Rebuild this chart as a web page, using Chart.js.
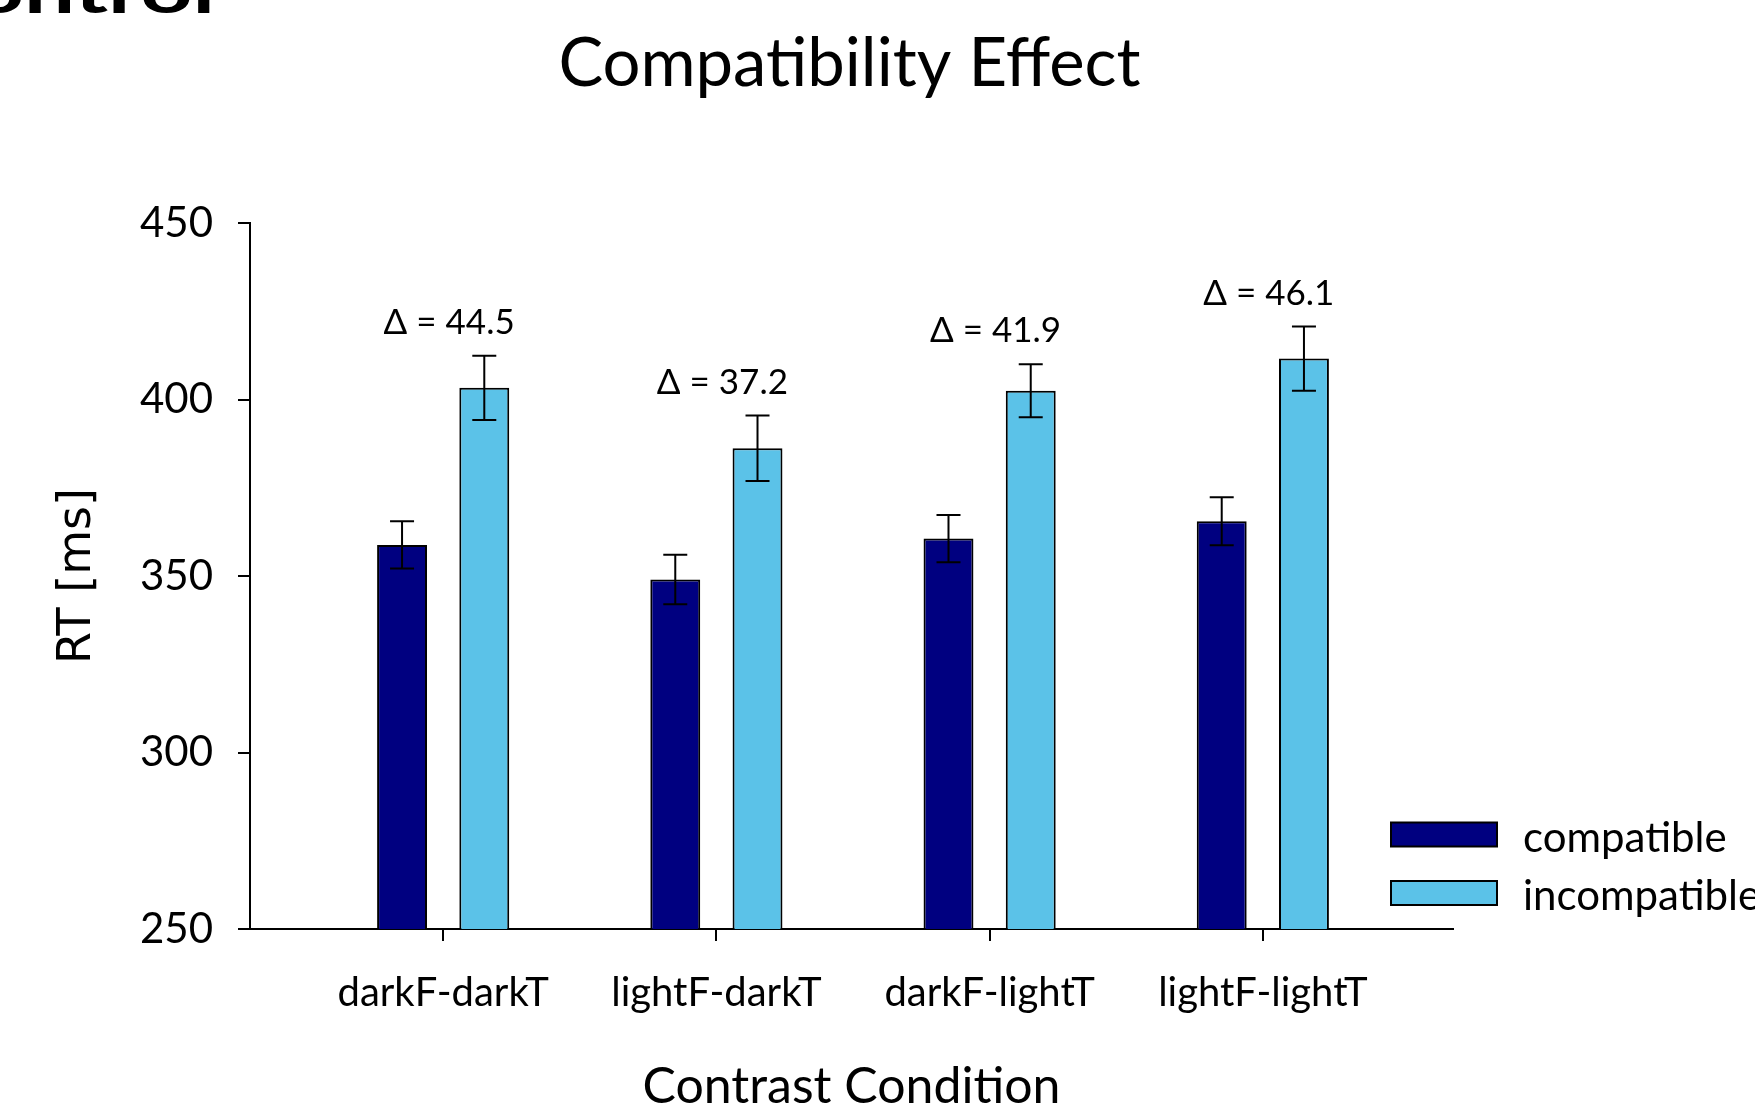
<!DOCTYPE html>
<html>
<head>
<meta charset="utf-8">
<script src="https://cdn.jsdelivr.net/npm/chart.js@4.4.1/dist/chart.umd.min.js"></script>
<style>
  html, body { margin: 0; padding: 0; background: #fff; }
  #wrap { position: relative; width: 1755px; height: 1106px; }
</style>
</head>
<body>
<div id="wrap"><canvas id="c" width="1755" height="1106"></canvas></div>
<script>
// ---- data ----
const categories = ['darkF-darkT', 'lightF-darkT', 'darkF-lightT', 'lightF-lightT'];
const compatible = [358.8, 349.0, 360.6, 365.5];
const incompatible = [403.3, 386.2, 402.5, 411.6];
const compatibleErr = [6.7, 7.0, 6.7, 6.8];
const incompatibleErr = [9.1, 9.3, 7.5, 9.1];
const deltaLabels = ['\u0394 = 44.5', '\u0394 = 37.2', '\u0394 = 41.9', '\u0394 = 46.1'];
const yTicks = [250, 300, 350, 400, 450];
const seriesNames = ['compatible', 'incompatible'];
const chartTitle = 'Compatibility Effect';
const xTitle = 'Contrast Condition';
const yTitle = 'RT [ms]';
const slideFragment = 'ontrol';

const COL_COMP = '#000080';
const COL_INC = '#5bc2e8';
const FONT = 'Lato';

const errors = [compatibleErr, incompatibleErr];
const values = [compatible, incompatible];

const decorPlugin = {
  id: 'decor',
  afterDatasetsDraw(chart) {
    const ctx = chart.ctx;
    const ys = chart.scales.y;
    ctx.save();
    ctx.strokeStyle = '#000';
    ctx.lineWidth = 2;
    chart.data.datasets.forEach((ds, d) => {
      const meta = chart.getDatasetMeta(d);
      meta.data.forEach((el, i) => {
        const v = values[d][i], e = errors[d][i];
        const yt = ys.getPixelForValue(v + e);
        const yb = ys.getPixelForValue(v - e);
        const x = el.x;
        ctx.beginPath();
        ctx.moveTo(x, yt); ctx.lineTo(x, yb);
        ctx.moveTo(x - 12, yt); ctx.lineTo(x + 12, yt);
        ctx.moveTo(x - 12, yb); ctx.lineTo(x + 12, yb);
        ctx.stroke();
      });
    });
    ctx.restore();
  },
  afterDraw(chart) {
    const ctx = chart.ctx;
    const xs = chart.scales.x, ys = chart.scales.y;
    const area = chart.chartArea;
    ctx.save();
    ctx.fillStyle = '#000';
    // title
    ctx.font = '67px ' + FONT;
    ctx.textAlign = 'center';
    ctx.textBaseline = 'alphabetic';
    ctx.fillText(chartTitle, (area.left + area.right) / 2 - 2, 86);
    // delta labels
    ctx.font = '35px ' + FONT;
    ctx.textBaseline = 'middle';
    deltaLabels.forEach((t, i) => {
      const x = xs.getPixelForValue(i) + 6;
      const y = ys.getPixelForValue(incompatible[i] + incompatibleErr[i]) - 33;
      ctx.fillText(t, x, y);
    });
    // legend
    ctx.textAlign = 'left';
    ctx.textBaseline = 'alphabetic';
    ctx.font = '42px ' + FONT;
    chart.data.datasets.forEach((ds, d) => {
      const top = 822.5 + d * 58.5;
      ctx.fillStyle = ds.backgroundColor;
      ctx.fillRect(1391, top, 106, 24);
      ctx.strokeStyle = '#000';
      ctx.lineWidth = 2;
      ctx.strokeRect(1391, top, 106, 24);
      ctx.fillStyle = '#000';
      ctx.fillText(ds.label, 1523, top + 29);
    });
    // cut-off slide heading fragment
    ctx.font = 'bold 60px ' + FONT;
    const w = ctx.measureText(slideFragment).width;
    ctx.translate(-28, 13);
    ctx.scale(243 / w, 1);
    ctx.fillText(slideFragment, 0, 0);
    ctx.restore();
  }
};

function build() {
  new Chart(document.getElementById('c'), {
    type: 'bar',
    data: {
      datasets: [
        {
          label: seriesNames[0],
          data: compatible.map((v, i) => ({ x: i, y: v })),
          backgroundColor: COL_COMP,
          borderColor: '#000',
          borderWidth: 2
        },
        {
          label: seriesNames[1],
          data: incompatible.map((v, i) => ({ x: i, y: v })),
          backgroundColor: COL_INC,
          borderColor: '#000',
          borderWidth: 2
        }
      ]
    },
    options: {
      responsive: false,
      devicePixelRatio: 1,
      animation: false,
      categoryPercentage: 0.602,
      barPercentage: 0.607,
      layout: { padding: { top: 223, right: 302, left: 0, bottom: 0 } },
      plugins: {
        legend: { display: false },
        title: { display: false },
        tooltip: { enabled: false }
      },
      scales: {
        x: {
          type: 'linear',
          offset: false,
          min: -0.707,
          max: 3.696,
          afterBuildTicks: (s) => { s.ticks = categories.map((_, i) => ({ value: i })); },
          afterFit: (s) => { s.height = 177; },
          ticks: {
            autoSkip: false,
            maxRotation: 0,
            padding: 28,
            color: '#000',
            font: { family: FONT, size: 40 },
            callback: (v) => categories[v]
          },
          grid: { display: true, drawOnChartArea: false, drawTicks: true, tickLength: 12, color: '#000', lineWidth: 2, offset: false },
          border: { display: true, color: '#000', width: 2 },
          title: {
            display: true,
            text: xTitle,
            color: '#000',
            font: { family: FONT, size: 50, lineHeight: 0.6 },
            padding: { top: 0, bottom: 4 }
          }
        },
        y: {
          type: 'linear',
          min: 250,
          max: 450,
          afterBuildTicks: (s) => { s.ticks = yTicks.map(v => ({ value: v })); },
          afterFit: (s) => { s.width = 250; },
          ticks: {
            padding: 25,
            color: '#000',
            font: { family: FONT, size: 42 }
          },
          grid: { display: true, drawOnChartArea: false, drawTicks: true, tickLength: 12, color: '#000', lineWidth: 2 },
          border: { display: true, color: '#000', width: 2 },
          title: {
            display: true,
            text: yTitle,
            color: '#000',
            font: { family: 'DejaVu Sans', size: 46, lineHeight: 1.2 },
            padding: { top: 50, bottom: 0 }
          }
        }
      }
    },
    plugins: [decorPlugin]
  });
}

Promise.all([
  document.fonts.load('40px Lato'),
  document.fonts.load('bold 60px Lato'),
  document.fonts.load('46px "DejaVu Sans"')
]).then(build, build);
</script>
</body>
</html>
